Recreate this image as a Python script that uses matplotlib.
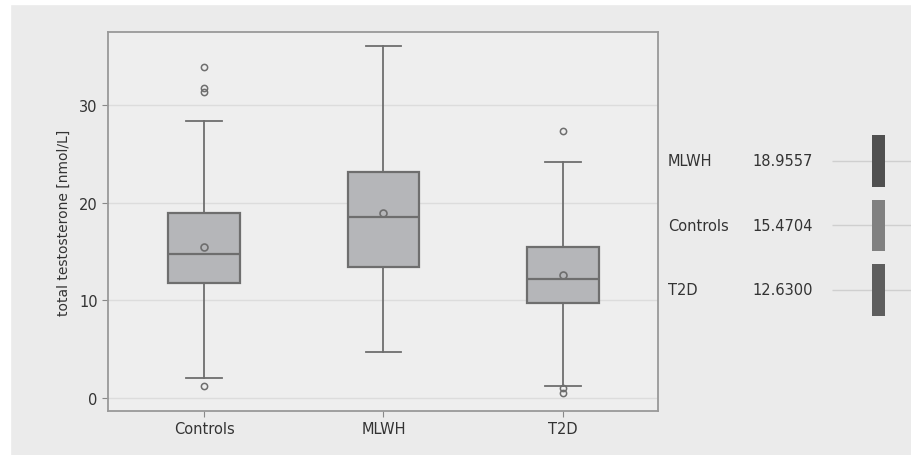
import matplotlib.pyplot as plt
from matplotlib.patches import Rectangle

# box plot statistics
groups = ["Controls", "MLWH", "T2D"]
q1 = [11.8, 13.4, 9.7]
median = [14.7, 18.5, 12.2]
q3 = [18.9, 23.1, 15.5]
whis_lo = [2.0, 4.7, 1.2]
whis_hi = [28.3, 36.0, 24.1]
means = [15.4704, 18.9557, 12.6300]
outliers = [[33.9, 31.7, 31.3, 1.2], [], [27.3, 1.0, 0.5]]

# side panel (sorted by mean)
side_names = ["MLWH", "Controls", "T2D"]
side_means = [18.9557, 15.4704, 12.6300]
side_colors = ["#505050", "#808080", "#5e5e5e"]

yticks = [0, 10, 20, 30]

bg = "#ebebeb"
edge = "#6e6e6e"
plt.rcParams['font.family'] = ['DejaVu Sans']

fig = plt.figure(figsize=(9.11, 4.56), dpi=100, facecolor=bg)
# white strip at top and left of the scan
fig.patches.append(Rectangle((0, 0), 10 / 911, 1, transform=fig.transFigure,
                             color="white", zorder=-1))
fig.patches.append(Rectangle((0, 1 - 5 / 456), 1, 5 / 456, transform=fig.transFigure,
                             color="white", zorder=-1))

ax = fig.add_axes([108 / 911, 1 - 412 / 456, 550 / 911, 379 / 456])
ax.set_facecolor("#eeeeee")

stats = []
for i, g in enumerate(groups):
    stats.append({"label": g, "q1": q1[i], "med": median[i], "q3": q3[i],
                  "whislo": whis_lo[i], "whishi": whis_hi[i],
                  "mean": means[i], "fliers": outliers[i]})

ax.bxp(stats, positions=range(len(groups)), widths=0.4, patch_artist=True,
       showmeans=True, showcaps=True,
       boxprops=dict(facecolor="#b5b6b9", edgecolor=edge, linewidth=1.6),
       medianprops=dict(color=edge, linewidth=1.6),
       whiskerprops=dict(color=edge, linewidth=1.3),
       capprops=dict(color=edge, linewidth=1.3),
       capwidths=0.2,
       meanprops=dict(marker="o", markerfacecolor="none", markeredgecolor=edge,
                      markersize=5, markeredgewidth=1.2),
       flierprops=dict(marker="o", markerfacecolor="none", markeredgecolor=edge,
                       markersize=4.5, markeredgewidth=1.1))

ax.set_xlim(-0.535, 2.53)
ax.set_ylim(-1.33, 37.45)
ax.set_yticks(yticks)
ax.yaxis.grid(True, color="#dcdcdc", linewidth=1)
ax.set_axisbelow(True)
ax.tick_params(colors="#888888", labelcolor="#333333", labelsize=10.5, length=4)
ax.set_ylabel("total testosterone [nmol/L]", fontsize=10, color="#333333", labelpad=6)
for s in ax.spines.values():
    s.set_color("#999999")
    s.set_linewidth(1.3)

# side panel with group means
ax2 = fig.add_axes([660 / 911, 1 - 412 / 456, 251 / 911, 379 / 456])
ax2.set_xlim(0, 1)
ax2.set_ylim(3.876, -2.0)
ax2.axis("off")
rows = range(len(side_names))
ax2.hlines(rows, 0.685, 1.0, color="#cfcfcf", linewidth=1, zorder=1)
ax2.barh(rows, 0.052, left=0.845, height=0.8, color=side_colors, zorder=2)
for r, name, m in zip(rows, side_names, side_means):
    ax2.text(0.032, r, name, va="center", fontsize=10.5, color="#333333")
    ax2.text(0.37, r, f"{m:.4f}", va="center", fontsize=10.5, color="#333333")

fig.savefig("out.png", dpi=100, facecolor=fig.get_facecolor())
